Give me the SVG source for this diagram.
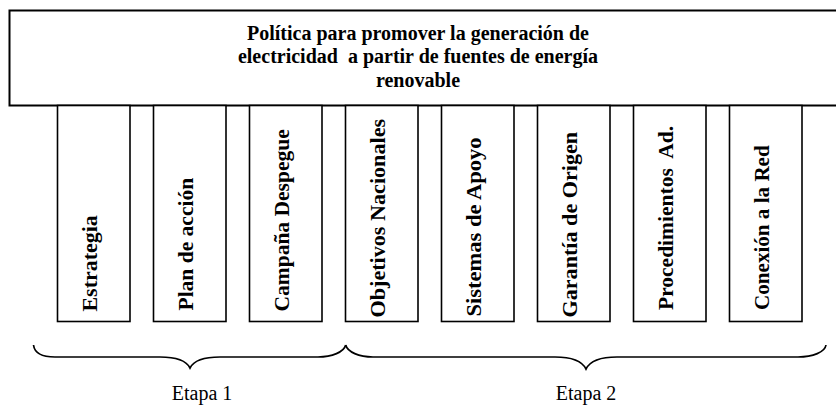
<svg xmlns="http://www.w3.org/2000/svg" width="836" height="405" viewBox="0 0 836 405">
<style>
.box{fill:#fff;stroke:#000;stroke-width:2}
.col{fill:#fff;stroke:#000;stroke-width:1.6}
.title{font-family:"Liberation Serif","Times New Roman",serif;font-weight:bold;font-size:20px;text-anchor:middle;fill:#000}
.vlab{font-family:"Liberation Serif","Times New Roman",serif;font-weight:bold;font-size:20.5px;fill:#000}
.brace{fill:none;stroke:#000;stroke-width:1.7}
.etapa{font-family:"Liberation Serif","Times New Roman",serif;font-size:20px;text-anchor:middle;fill:#000}
</style>
<rect width="836" height="405" fill="#fff"/>
<g id="politica">
<rect class="box" x="9.5" y="10.5" width="840" height="95"/>
<text class="title" x="418" y="39.5">Política para promover la generación de</text>
<text class="title" x="418" y="63" xml:space="preserve">electricidad  a partir de fuentes de energía</text>
<text class="title" x="418" y="86.5">renovable</text>
</g>
<g id="estrategia">
<rect class="col" x="57.5" y="105.5" width="72.5" height="216"/>
<text class="vlab" transform="translate(97,311.5) rotate(-90) scale(1.07,1)">Estrategia</text>
</g>
<g id="plan">
<rect class="col" x="153.5" y="105.5" width="72.5" height="216"/>
<text class="vlab" transform="translate(193,310.5) rotate(-90) scale(1.05,1)">Plan de acción</text>
</g>
<g id="campana">
<rect class="col" x="249.5" y="105.5" width="72.5" height="216"/>
<text class="vlab" transform="translate(289,311.5) rotate(-90) scale(1.05,1)">Campaña Despegue</text>
</g>
<g id="objetivos">
<rect class="col" x="345.5" y="105.5" width="72.5" height="216"/>
<text class="vlab" transform="translate(385,317.5) rotate(-90) scale(1.08,1)">Objetivos Nacionales</text>
</g>
<g id="sistemas">
<rect class="col" x="441.5" y="105.5" width="72.5" height="216"/>
<text class="vlab" transform="translate(481,316.5) rotate(-90) scale(1.1,1)">Sistemas de Apoyo</text>
</g>
<g id="garantia">
<rect class="col" x="537.5" y="105.5" width="72.5" height="216"/>
<text class="vlab" transform="translate(577,317.5) rotate(-90) scale(1.08,1)">Garantía de Origen</text>
</g>
<g id="procedimientos">
<rect class="col" x="633.5" y="105.5" width="72.5" height="216"/>
<text class="vlab" transform="translate(673,310) rotate(-90) scale(1.05,1)" xml:space="preserve">Procedimientos  Ad.</text>
</g>
<g id="conexion">
<rect class="col" x="729.5" y="105.5" width="72.5" height="216"/>
<text class="vlab" transform="translate(769,310) rotate(-90) scale(1.03,1)">Conexión a la Red</text>
</g>
<g id="connectors">
<path class="brace" d="M33.5,345 C34.5,353 42,357 55,357 L160,357 C175,357 186,360 190,368 C194,360 205,357 220,357 L318,357 C332,357 344,352 345.7,345"/>
<path class="brace" d="M345.7,345 C347.5,352 359,357 373,357 L555,357 C571,357 582,361 586,369 C590,361 601,357 617,357 L798,357 C813,357 825,352 826,345"/>
</g>
<g id="etapa1"><text class="etapa" x="202" y="400">Etapa 1</text></g>
<g id="etapa2"><text class="etapa" x="586" y="400">Etapa 2</text></g>
</svg>
